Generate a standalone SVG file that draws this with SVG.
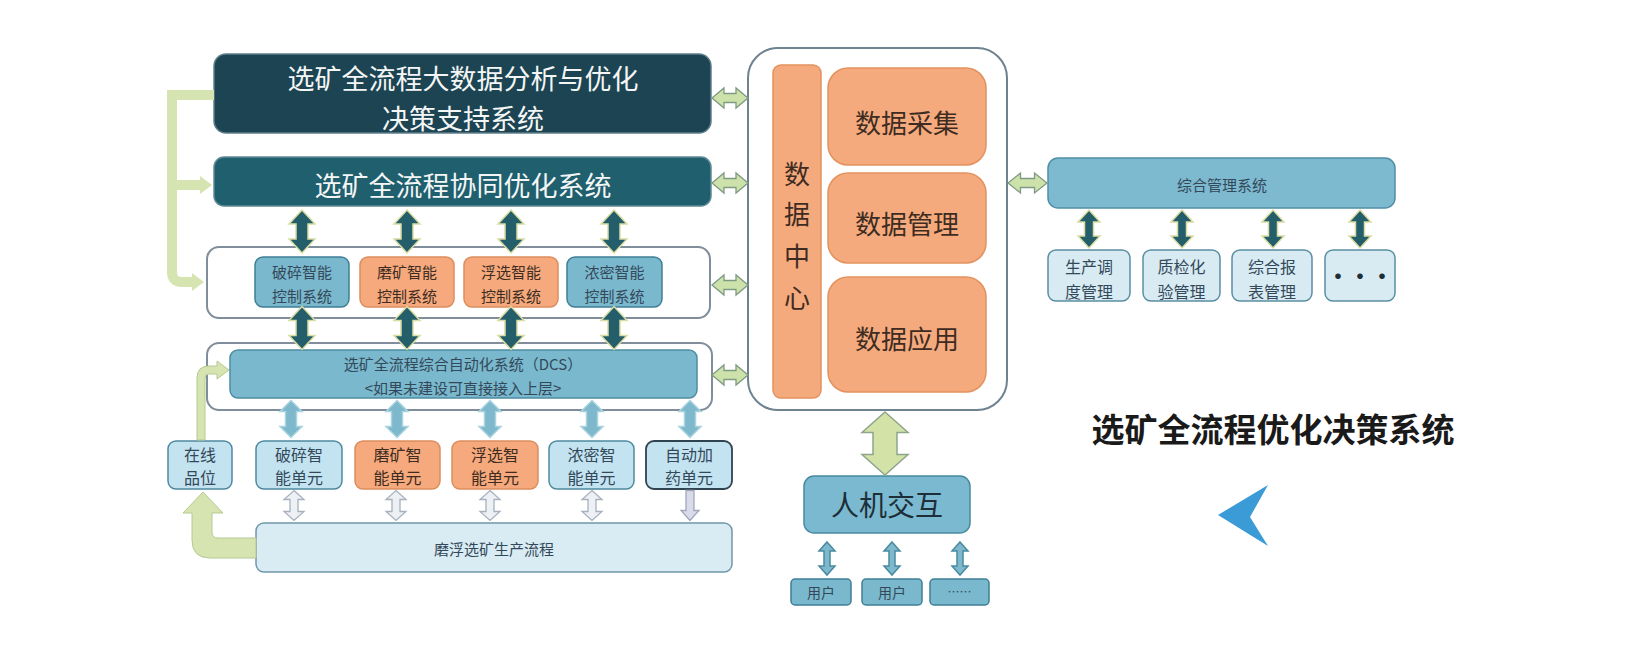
<svg xmlns="http://www.w3.org/2000/svg" width="1650" height="665" viewBox="0 0 1650 665">
<style>
text{font-family:"Noto Sans CJK SC","Noto Sans",sans-serif;text-anchor:middle;dominant-baseline:central}
.wt{fill:#f4f6f6}
.dk{fill:#33495a}
.or{fill:#3e2c22}
.cont{fill:#ffffff;stroke:#7f8e9a;stroke-width:2}
.blue{fill:#7ab8cd;stroke:#3f7f95;stroke-width:1.5}
.orange{fill:#f5a97c;stroke:#dc8d5e;stroke-width:1.5}
.lblue{fill:#c4e3f1;stroke:#4d8aa0;stroke-width:1.5}
.pale{fill:#d8ebf3;stroke:#5a8ea2;stroke-width:1.5}
.darr{fill:#235e6a;stroke:#dadca2;stroke-width:1.5}
.barr{fill:#7db8cc;stroke:#a9d3e0;stroke-width:1.5}
.parr{fill:#edf1f5;stroke:#a7b1bd;stroke-width:1.3}
.garr{fill:#cde2aa;stroke:#7f9a82;stroke-width:1.3}
.gfill{fill:#d5e4b0;stroke:#b6ca92;stroke-width:1}
.dc{fill:#f5aa7d;stroke:#e2925f;stroke-width:1.5}
</style>
<defs>
<path id="dv" d="M0,-21.5 L13,-7.5 L6,-7.5 L6,7.5 L13,7.5 L0,21.5 L-13,7.5 L-6,7.5 L-6,-7.5 L-13,-7.5 Z"/>
<path id="dvs" d="M0,-19 L11,-7 L4.5,-7 L4.5,7 L11,7 L0,19 L-11,7 L-4.5,7 L-4.5,-7 L-11,-7 Z"/>
<path id="lb" d="M0,-18.5 L11,-7.5 L5.5,-7.5 L5.5,7.5 L11,7.5 L0,18.5 L-11,7.5 L-5.5,7.5 L-5.5,-7.5 L-11,-7.5 Z"/>
<path id="pl" d="M0,-15 L10,-6 L4,-6 L4,6 L10,6 L0,15 L-10,6 L-4,6 L-4,-6 L-10,-6 Z"/>
<path id="pd" d="M-4,-15 L4,-15 L4,5 L9,5 L0,15 L-9,5 L-4,5 Z"/>
<path id="gh" d="M-18,0 L-6,-10 L-6,-4.5 L6,-4.5 L6,-10 L18,0 L6,10 L6,4.5 L-6,4.5 L-6,10 Z"/>
<path id="gh2" d="M-19.5,0 L-7,-10 L-7,-4.5 L7,-4.5 L7,-10 L19.5,0 L7,10 L7,4.5 L-7,4.5 L-7,10 Z"/>
<path id="big" d="M0,-31.5 L23,-11 L12,-11 L12,11 L23,11 L0,31.5 L-23,11 L-12,11 L-12,-11 L-23,-11 Z"/>
<path id="us" d="M0,-16.5 L8,-7.5 L3,-7.5 L3,7.5 L8,7.5 L0,16.5 L-8,7.5 L-3,7.5 L-3,-7.5 L-8,-7.5 Z"/>
</defs>

<g id="bigdata">
  <rect x="214" y="54" width="497" height="79" rx="12" fill="#1c4452" stroke="#5f7f8a" stroke-width="1.5"/>
  <text class="wt" x="463" y="77" font-size="27">选矿全流程大数据分析与优化</text>
  <text class="wt" x="463" y="117" font-size="27">决策支持系统</text>
</g>
<g id="collab">
  <rect x="214" y="157" width="497" height="49" rx="10" fill="#1f5f6e" stroke="#5f8a94" stroke-width="1.5"/>
  <text class="wt" x="463" y="184" font-size="27">选矿全流程协同优化系统</text>
</g>
<g id="control-container">
  <rect class="cont" x="207" y="247" width="503" height="71" rx="12"/>
</g>
<g id="ctl-crush">
  <rect class="blue" x="255" y="257" width="94" height="50" rx="8"/>
  <text class="dk" x="302" y="271" font-size="15">破碎智能</text>
  <text class="dk" x="302" y="295" font-size="15">控制系统</text>
</g>
<g id="ctl-grind">
  <rect class="orange" x="360" y="257" width="94" height="50" rx="8"/>
  <text class="or" x="407" y="271" font-size="15">磨矿智能</text>
  <text class="or" x="407" y="295" font-size="15">控制系统</text>
</g>
<g id="ctl-float">
  <rect class="orange" x="464" y="257" width="94" height="50" rx="8"/>
  <text class="or" x="511" y="271" font-size="15">浮选智能</text>
  <text class="or" x="511" y="295" font-size="15">控制系统</text>
</g>
<g id="ctl-thick">
  <rect class="blue" x="567" y="257" width="95" height="50" rx="8"/>
  <text class="dk" x="614.5" y="271" font-size="15">浓密智能</text>
  <text class="dk" x="614.5" y="295" font-size="15">控制系统</text>
</g>
<g id="dcs">
  <rect class="cont" x="207" y="343" width="505" height="67" rx="12"/>
  <rect x="230" y="350" width="467" height="48" rx="8" fill="#79b8cd" stroke="#4d8ca3" stroke-width="1.5"/>
  <text class="dk" x="463" y="363" font-size="15">选矿全流程综合自动化系统（DCS）</text>
  <text class="dk" x="463" y="387" font-size="15">&lt;如果未建设可直接接入上层&gt;</text>
</g>
<g id="unit-online">
  <rect class="lblue" x="168" y="441" width="64" height="48" rx="8"/>
  <text class="dk" x="200" y="454" font-size="16">在线</text>
  <text class="dk" x="200" y="477" font-size="16">品位</text>
</g>
<g id="unit-crush">
  <rect class="lblue" x="256" y="441" width="86" height="48" rx="8"/>
  <text class="dk" x="299" y="454" font-size="16">破碎智</text>
  <text class="dk" x="299" y="477" font-size="16">能单元</text>
</g>
<g id="unit-grind">
  <rect class="orange" x="355" y="441" width="85" height="48" rx="8"/>
  <text class="or" x="397.5" y="454" font-size="16">磨矿智</text>
  <text class="or" x="397.5" y="477" font-size="16">能单元</text>
</g>
<g id="unit-float">
  <rect class="orange" x="452" y="441" width="86" height="48" rx="8"/>
  <text class="or" x="495" y="454" font-size="16">浮选智</text>
  <text class="or" x="495" y="477" font-size="16">能单元</text>
</g>
<g id="unit-thick">
  <rect class="lblue" x="549" y="441" width="85" height="48" rx="8"/>
  <text class="dk" x="591.5" y="454" font-size="16">浓密智</text>
  <text class="dk" x="591.5" y="477" font-size="16">能单元</text>
</g>
<g id="unit-dose">
  <rect x="646" y="441" width="86" height="48" rx="8" fill="#c4e3f1" stroke="#2f4350" stroke-width="1.8"/>
  <text class="dk" x="689" y="454" font-size="16">自动加</text>
  <text class="dk" x="689" y="477" font-size="16">药单元</text>
</g>
<g id="production">
  <rect x="256" y="523" width="476" height="49" rx="8" fill="#d9ebf3" stroke="#6f98aa" stroke-width="1.5"/>
  <text class="dk" x="494" y="548" font-size="15">磨浮选矿生产流程</text>
</g>
<g id="datacenter">
  <rect x="748" y="48" width="259" height="362" rx="30" fill="#ffffff" stroke="#6f8290" stroke-width="2"/>
  <rect class="dc" x="773" y="65" width="48" height="333" rx="8"/>
  <text class="or" x="797" y="172" font-size="26">数</text>
  <text class="or" x="797" y="212" font-size="26">据</text>
  <text class="or" x="797" y="254" font-size="26">中</text>
  <text class="or" x="797" y="296" font-size="26">心</text>
</g>
<g id="dc-collect">
  <rect class="dc" x="828" y="68" width="158" height="97" rx="20"/>
  <text class="or" x="907" y="121" font-size="26">数据采集</text>
</g>
<g id="dc-manage">
  <rect class="dc" x="828" y="173" width="158" height="90" rx="20"/>
  <text class="or" x="907" y="222" font-size="26">数据管理</text>
</g>
<g id="dc-apply">
  <rect class="dc" x="828" y="277" width="158" height="115" rx="20"/>
  <text class="or" x="907" y="337" font-size="26">数据应用</text>
</g>
<g id="hmi">
  <rect x="804" y="476" width="166" height="57" rx="10" fill="#7ab9cf" stroke="#4a8aa0" stroke-width="1.5"/>
  <text x="887" y="504" font-size="28" fill="#1e2e38">人机交互</text>
</g>
<g id="user1">
  <rect class="blue" x="791" y="579" width="60" height="26" rx="4"/>
  <text class="dk" x="821" y="592" font-size="14">用户</text>
</g>
<g id="user2">
  <rect class="blue" x="862" y="579" width="60" height="26" rx="4"/>
  <text class="dk" x="892" y="592" font-size="14">用户</text>
</g>
<g id="user3">
  <rect class="blue" x="930" y="579" width="59" height="26" rx="4"/>
  <text class="dk" x="959.5" y="591" font-size="12">……</text>
</g>
<g id="mgmt">
  <rect x="1048" y="158" width="347" height="50" rx="10" fill="#7dbad0" stroke="#4f8fa5" stroke-width="1.5"/>
  <text class="dk" x="1222" y="184" font-size="15">综合管理系统</text>
</g>
<g id="m-sched">
  <rect class="pale" x="1048" y="250" width="82" height="51" rx="8"/>
  <text class="dk" x="1089" y="266" font-size="16">生产调</text>
  <text class="dk" x="1089" y="291" font-size="16">度管理</text>
</g>
<g id="m-qc">
  <rect class="pale" x="1143" y="250" width="77" height="51" rx="8"/>
  <text class="dk" x="1181.5" y="266" font-size="16">质检化</text>
  <text class="dk" x="1181.5" y="291" font-size="16">验管理</text>
</g>
<g id="m-report">
  <rect class="pale" x="1232" y="250" width="80" height="51" rx="8"/>
  <text class="dk" x="1272" y="266" font-size="16">综合报</text>
  <text class="dk" x="1272" y="291" font-size="16">表管理</text>
</g>
<g id="m-more">
  <rect class="pale" x="1325" y="250" width="70" height="51" rx="8"/>
  <text x="1360" y="274" font-size="22" font-weight="bold" fill="#1e2e38">•••</text>
</g>

<g id="connectors">
  <!-- left bracket -->
  <path d="M214,95 H172 V272 Q172,282 182,282 H193" fill="none" stroke="#d5e4b0" stroke-width="10"/>
  <path d="M172,185 H201" fill="none" stroke="#d5e4b0" stroke-width="10"/>
  <polygon points="200,176 212,185 200,194" fill="#d5e4b0"/>
  <polygon points="192,273 204,282 192,291" fill="#d5e4b0"/>
  <!-- production to online grade -->
  <path class="gfill" d="M203,492 L223,513 L212,513 L212,532 Q212,538 218,538 L256,538 L256,558 L210,558 Q192,558 192,540 L192,513 L183,513 Z"/>
  <!-- online grade to DCS -->
  <path class="gfill" d="M197,440 L197,378 Q197,366 209,366 L217,366 L217,361 L229,370 L217,379 L217,374 L209,374 Q205,374 205,378 L205,440 Z"/>
  <!-- dark arrows top row -->
  <use href="#dv" class="darr" x="302" y="231.5"/>
  <use href="#dv" class="darr" x="407" y="231.5"/>
  <use href="#dv" class="darr" x="511" y="231.5"/>
  <use href="#dv" class="darr" x="614" y="231.5"/>
  <!-- dark arrows second row -->
  <use href="#dv" class="darr" x="302" y="328"/>
  <use href="#dv" class="darr" x="407" y="328"/>
  <use href="#dv" class="darr" x="511" y="328"/>
  <use href="#dv" class="darr" x="614" y="328"/>
  <!-- DCS to units -->
  <use href="#lb" class="barr" x="291" y="419"/>
  <use href="#lb" class="barr" x="397" y="419"/>
  <use href="#lb" class="barr" x="490" y="419"/>
  <use href="#lb" class="barr" x="592" y="419"/>
  <use href="#lb" class="barr" x="690" y="419"/>
  <!-- units to production -->
  <use href="#pl" class="parr" x="294" y="505.5"/>
  <use href="#pl" class="parr" x="396" y="505.5"/>
  <use href="#pl" class="parr" x="490" y="505.5"/>
  <use href="#pl" class="parr" x="592" y="505.5"/>
  <use href="#pd" x="690" y="505.5" fill="#d8dbea" stroke="#a2a6bc" stroke-width="1.3"/>
  <!-- green horizontal to data center -->
  <use href="#gh" class="garr" x="730" y="98"/>
  <use href="#gh" class="garr" x="730" y="183"/>
  <use href="#gh" class="garr" x="730" y="285"/>
  <use href="#gh" class="garr" x="730" y="375"/>
  <use href="#gh2" class="garr" x="1027.5" y="183"/>
  <!-- data center to HMI -->
  <use href="#big" x="885" y="443.5" fill="#d3e3a8" stroke="#8fa58a" stroke-width="1.5"/>
  <!-- HMI to users -->
  <use href="#us" class="barr" x="827" y="558.5" style="stroke:#4a8aa0"/>
  <use href="#us" class="barr" x="892" y="558.5" style="stroke:#4a8aa0"/>
  <use href="#us" class="barr" x="960" y="558.5" style="stroke:#4a8aa0"/>
  <!-- management arrows -->
  <use href="#dvs" class="darr" x="1089" y="229"/>
  <use href="#dvs" class="darr" x="1182" y="229"/>
  <use href="#dvs" class="darr" x="1273" y="229"/>
  <use href="#dvs" class="darr" x="1360" y="229"/>
</g>

<g id="title">
  <text x="1273" y="428" font-size="33" font-weight="bold" fill="#1a1a1a">选矿全流程优化决策系统</text>
</g>
<g id="pointer">
  <polygon points="1218,515 1268,485 1250,517 1268,546" fill="#3b9bd6"/>
</g>
</svg>
